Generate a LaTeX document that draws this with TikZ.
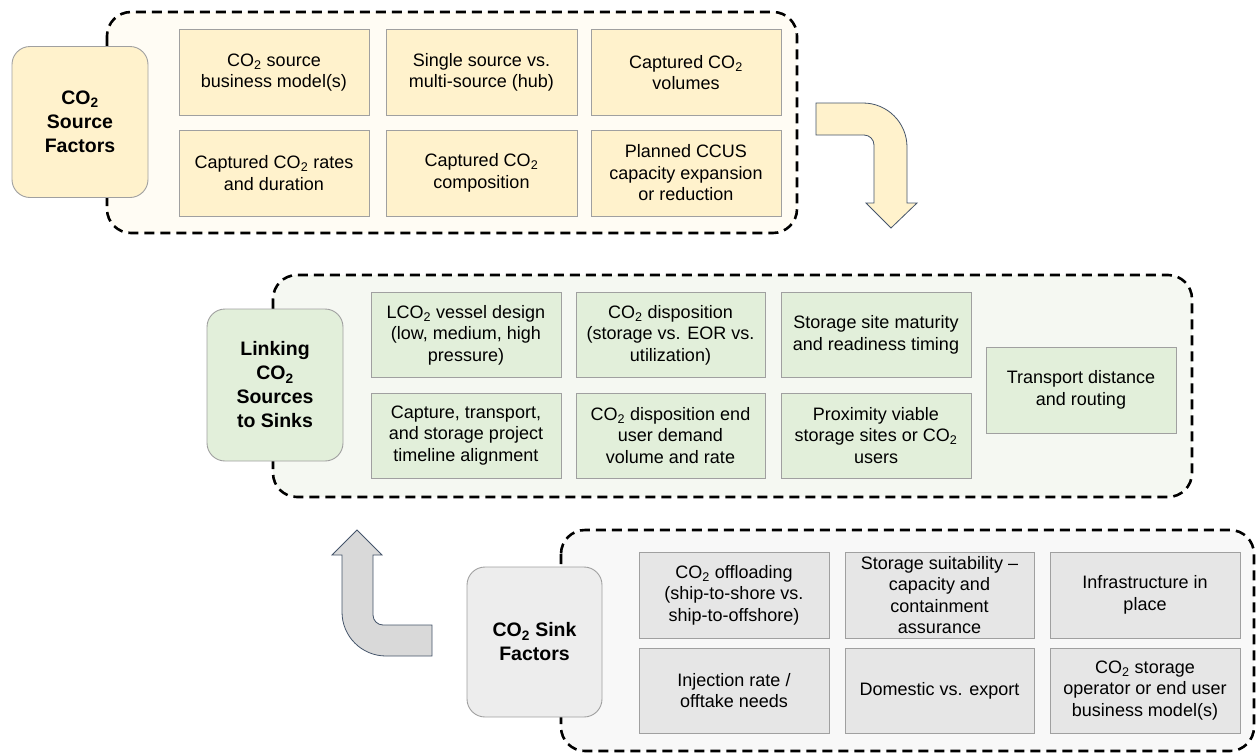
\documentclass[tikz,border=0pt]{standalone}
\usepackage{fontspec}
\setmainfont{Liberation Sans}
\newcommand{\cotwo}{CO\textsubscript{2}}
\definecolor{yfill}{HTML}{FFF2CC}
\definecolor{ybg}{HTML}{FFFCF4}
\definecolor{gfill}{HTML}{E2EFDA}
\definecolor{gbg}{HTML}{F5F8F2}
\definecolor{kfill}{HTML}{E6E6E6}
\definecolor{klab}{HTML}{EDEDED}
\definecolor{kbg}{HTML}{F8F8F8}
\definecolor{cellline}{HTML}{A0A0A0}
\definecolor{arrowline}{HTML}{44546A}
\definecolor{arrowgray}{HTML}{D9D9D9}
\begin{document}
\begin{tikzpicture}[x=1pt,y=-1pt,
  groupbox/.style={draw=black, line width=2.6pt, dash pattern=on 10pt off 6pt, rounded corners=24pt},
  cellbox/.style={draw=cellline, line width=0.9pt, inner sep=0pt, align=center,
    minimum width=190pt, minimum height=86pt,
    font=\fontsize{18}{21.5}\selectfont},
  labelbox/.style={draw=cellline, line width=0.9pt, rounded corners=18pt, inner sep=0pt,
    align=center, minimum width=136pt, minimum height=151pt,
    font=\fontsize{19.5}{24}\selectfont\bfseries},
  flowarrow/.style={draw=arrowline, line width=0.8pt, line join=miter}]
\useasboundingbox (0,0) rectangle (1256,755);
\clip (0,0) rectangle (1256,755);

% ---------- CO2 source factors ----------
\draw[groupbox, fill=ybg] (107,12) rectangle (797,233);
\node[labelbox, fill=yfill] (srclab) at (80,122) {\cotwo\\Source\\Factors};
\node[cellbox, fill=yfill] (s1) at (274,72.5) {\cotwo{} source\\business model(s)};
\node[cellbox, fill=yfill, minimum width=191pt] (s2) at (481.5,72.5) {Single source vs.\\multi-source (hub)};
\node[cellbox, fill=yfill] (s3) at (686,72.5) {Captured \cotwo\\volumes};
\node[cellbox, fill=yfill] (s4) at (274,173) {Captured \cotwo{} rates\\and duration};
\node[cellbox, fill=yfill, minimum width=191pt] (s5) at (481.5,173) {Captured \cotwo\\composition};
\node[cellbox, fill=yfill] (s6) at (686,173) {Planned CCUS\\capacity expansion\\or reduction};

% ---------- linking sources to sinks ----------
\draw[groupbox, fill=gbg] (273,275) rectangle (1192,497);
\node[labelbox, fill=gfill, minimum height=152pt] (linklab) at (275,385) {Linking\\\cotwo\\Sources\\to Sinks};
\node[cellbox, fill=gfill, minimum height=85pt] (m1) at (466,335) {L\cotwo{} vessel design\\(low, medium, high\\pressure)};
\node[cellbox, fill=gfill, minimum height=85pt, minimum width=189pt] (m2) at (670.5,335) {\cotwo{} disposition\\(storage vs. EOR vs.\\utilization)};
\node[cellbox, fill=gfill, minimum height=85pt] (m3) at (876,335) {Storage site maturity\\and readiness timing};
\node[cellbox, fill=gfill, minimum height=85pt] (m4) at (466,435.5) {Capture, transport,\\and storage project\\timeline alignment};
\node[cellbox, fill=gfill, minimum height=85pt, minimum width=189pt] (m5) at (670.5,435.5) {\cotwo{} disposition end\\user demand\\volume and rate};
\node[cellbox, fill=gfill, minimum height=85pt] (m6) at (876,435.5) {Proximity viable\\storage sites or \cotwo\\users};
\node[cellbox, fill=gfill] (m7) at (1081,390) {Transport distance\\and routing};

% ---------- CO2 sink factors ----------
\draw[groupbox, fill=kbg] (561,530) rectangle (1254,751);
\node[labelbox, fill=klab, minimum width=135pt, minimum height=150pt] (sinklab) at (534.5,642) {\cotwo{} Sink\\Factors};
\node[cellbox, fill=kfill] (k1) at (734,595) {\cotwo{} offloading\\(ship-to-shore vs.\\ship-to-offshore)};
\node[cellbox, fill=kfill, minimum width=189pt] (k2) at (939.5,595) {Storage suitability --\\capacity and\\containment\\assurance};
\node[cellbox, fill=kfill] (k3) at (1145,595) {Infrastructure in\\place};
\node[cellbox, fill=kfill, minimum height=85pt] (k4) at (734,690.5) {Injection rate /\\offtake needs};
\node[cellbox, fill=kfill, minimum height=85pt, minimum width=189pt] (k5) at (939.5,690.5) {Domestic vs. export};
\node[cellbox, fill=kfill, minimum height=85pt] (k6) at (1145,690.5) {\cotwo{} storage\\operator or end user\\business model(s)};

% ---------- bent flow arrows ----------
% source -> linking: right, then down
\draw[flowarrow, fill=yfill] (816,135) -- (816,103) -- (863,103)
  .. controls (887.3,103) and (907,122.7) .. (907,147)
  -- (907,203) -- (917,203) -- (891,228) -- (866,203) -- (874,203) -- (874,145)
  .. controls (874,139.5) and (869.5,135) .. (864,135) -- cycle;
% sink -> linking: left, then up
\draw[flowarrow, fill=arrowgray] (357,530) -- (382,555) -- (373,555) -- (373,615)
  .. controls (373,620.5) and (377.5,625) .. (383,625)
  -- (432,625) -- (432,656) -- (386,656)
  .. controls (361.7,656) and (342,636.3) .. (342,612)
  -- (342,555) -- (332,555) -- cycle;
\end{tikzpicture}
\end{document}
